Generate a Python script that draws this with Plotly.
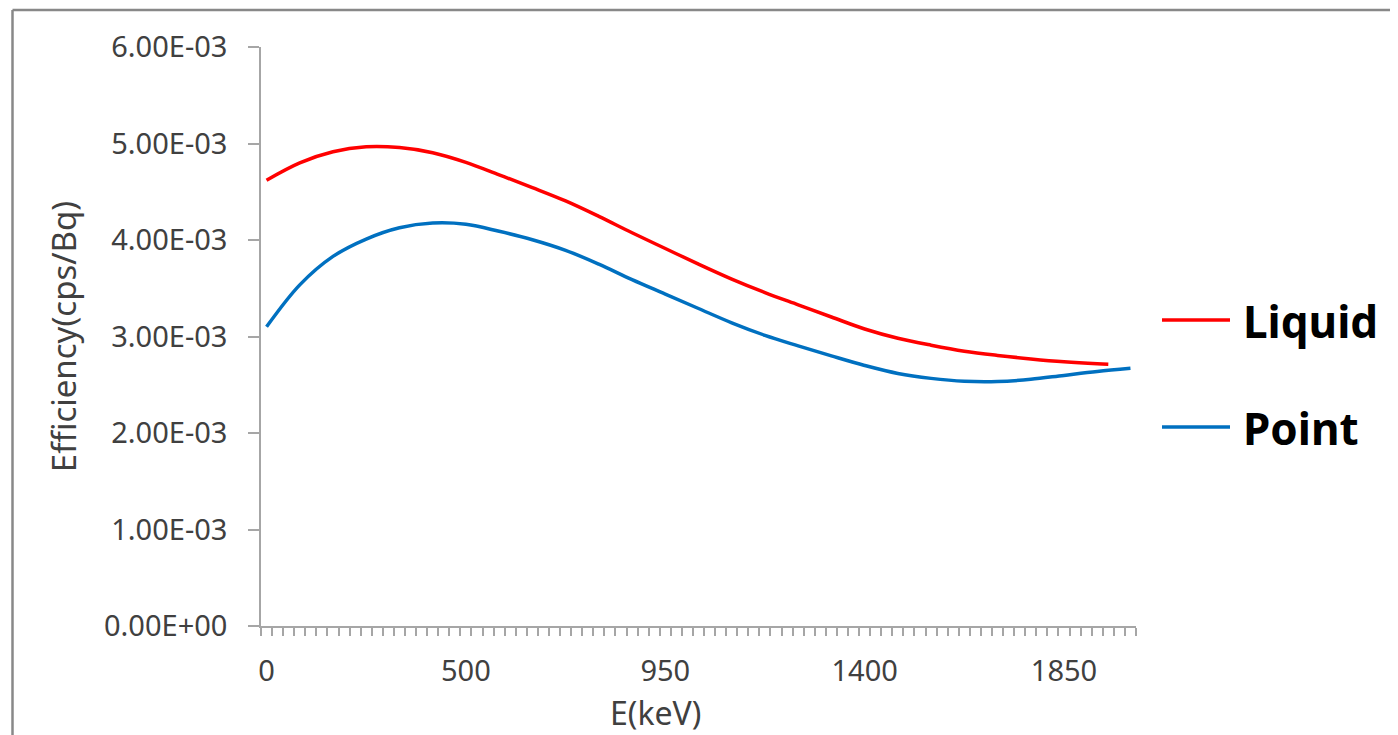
import plotly.graph_objects as go

# ---------------- data ----------------
# category axis of energies (keV); tick labels are shown every 18 categories
CATEGORIES = [0] + list(range(75, 2001, 25))
TICK_LABELS = ["0", "500", "950", "1400", "1850"]

LIQUID_E = [0, 125, 200, 275, 350, 425, 500, 575, 650, 725, 800, 875, 950, 1025, 1100,
            1175, 1250, 1325, 1400, 1475, 1550, 1625, 1700, 1775, 1850, 1925, 1950]
LIQUID_EFF = [4.62e-3, 4.80e-3, 4.915e-3, 4.966e-3, 4.958e-3, 4.905e-3, 4.805e-3, 4.675e-3,
              4.543e-3, 4.405e-3, 4.245e-3, 4.075e-3, 3.912e-3, 3.75e-3, 3.595e-3, 3.455e-3,
              3.328e-3, 3.202e-3, 3.078e-3, 2.982e-3, 2.91e-3, 2.848e-3, 2.804e-3, 2.768e-3,
              2.738e-3, 2.717e-3, 2.712e-3]

POINT_E = [0, 125, 200, 275, 350, 425, 500, 575, 650, 725, 800, 875, 950, 1025, 1100,
           1175, 1250, 1325, 1400, 1475, 1550, 1625, 1700, 1775, 1850, 1925, 2000]
POINT_EFF = [3.10e-3, 3.535e-3, 3.83e-3, 4.01e-3, 4.127e-3, 4.176e-3, 4.163e-3, 4.09e-3,
             4.003e-3, 3.893e-3, 3.75e-3, 3.59e-3, 3.44e-3, 3.29e-3, 3.142e-3, 3.012e-3,
             2.903e-3, 2.799e-3, 2.70e-3, 2.617e-3, 2.566e-3, 2.536e-3, 2.533e-3, 2.556e-3,
             2.597e-3, 2.637e-3, 2.67e-3]

Y_TICKS = [0, 1e-3, 2e-3, 3e-3, 4e-3, 5e-3, 6e-3]

SERIES_NAMES = ["Liquid", "Point"]
SERIES_COLORS = ["#FF0000", "#0070C0"]

# ---------------- layout helpers (page pixels -> paper coords) ----------------
OFF = 8                      # default body margin of the html page
W, H = 1398 - OFF, 735 - OFF
PL, PR, PT, PB = 261, 1136, 47, 626   # plot area in page pixels


def px_x(px):
    return (px - PL) / (PR - PL)


def px_y(py):
    return (PB - py) / (PB - PT)


def cat_pos(e):
    return CATEGORIES.index(e)


FONT = "Noto Sans"
TXT = "#404040"
AX = "#a6a6a6"

fig = go.Figure()
for name, color, es, vals in [
    (SERIES_NAMES[0], SERIES_COLORS[0], LIQUID_E, LIQUID_EFF),
    (SERIES_NAMES[1], SERIES_COLORS[1], POINT_E, POINT_EFF),
]:
    fig.add_trace(go.Scatter(
        x=[cat_pos(e) for e in es], y=vals, mode="lines", name=name,
        line=dict(color=color, width=3.5, shape="spline", smoothing=1.0),
        showlegend=False,
    ))

n = len(CATEGORIES)
fig.update_xaxes(
    range=[-0.5, n - 0.5], showgrid=False, zeroline=False,
    showline=True, linecolor=AX, linewidth=1.5,
    tickmode="array", tickvals=[cat_pos(int(t)) for t in TICK_LABELS], ticktext=TICK_LABELS,
    ticks="outside", ticklen=8, tickcolor="rgba(0,0,0,0)", ticklabelstandoff=10,
    tickfont=dict(family=FONT, size=29, color=TXT),
    minor=dict(ticks="outside", ticklen=8, tickcolor=AX, tickwidth=1.5,
               tickmode="array", tickvals=[i - 0.5 for i in range(n + 1)]),
)
fig.update_yaxes(
    range=[0, 6e-3], showgrid=False, zeroline=False,
    showline=True, linecolor=AX, linewidth=1.5,
    tickmode="array", tickvals=Y_TICKS, ticktext=[f"{v:.2E}" for v in Y_TICKS],
    ticks="outside", ticklen=11, tickcolor=AX, tickwidth=1.5, ticklabelstandoff=15,
    tickfont=dict(family=FONT, size=29, color=TXT),
    title=dict(text="Efficiency(cps/Bq)", font=dict(family=FONT, size=33, color=TXT), standoff=17),
)

shapes = []
annotations = []
# x axis title (placed left of the plot centre as in the reference)
annotations.append(dict(text="E(keV)", xref="paper", yref="paper", x=px_x(655), y=px_y(712),
                        xanchor="center", yanchor="middle", showarrow=False,
                        font=dict(family=FONT, size=32, color=TXT)))
# manual legend
for name, color, py in [(SERIES_NAMES[0], SERIES_COLORS[0], 320), (SERIES_NAMES[1], SERIES_COLORS[1], 427)]:
    shapes.append(dict(type="line", xref="paper", yref="paper",
                       x0=px_x(1162), x1=px_x(1230), y0=px_y(py), y1=px_y(py),
                       line=dict(color=color, width=3.5)))
    annotations.append(dict(text=f"<b>{name}</b>", xref="paper", yref="paper",
                            x=px_x(1241), y=px_y(py + 1), xanchor="left", yanchor="middle",
                            showarrow=False, font=dict(family=FONT, size=44, color="black")))

# outer frame (top and left edges visible)
shapes.append(dict(type="line", xref="paper", yref="paper", x0=px_x(12.5), x1=px_x(1410),
                   y0=px_y(10), y1=px_y(10), line=dict(color="#888888", width=2.5)))
shapes.append(dict(type="line", xref="paper", yref="paper", x0=px_x(12.5), x1=px_x(12.5),
                   y0=px_y(10), y1=px_y(745), line=dict(color="#888888", width=2.5)))

fig.update_layout(
    width=W, height=H, autosize=False,
    margin=dict(l=PL - OFF, r=W - (PR - OFF), t=PT - OFF, b=H - (PB - OFF)),
    paper_bgcolor="white", plot_bgcolor="white",
    shapes=shapes, annotations=annotations,
)

fig.write_html("out.html")
